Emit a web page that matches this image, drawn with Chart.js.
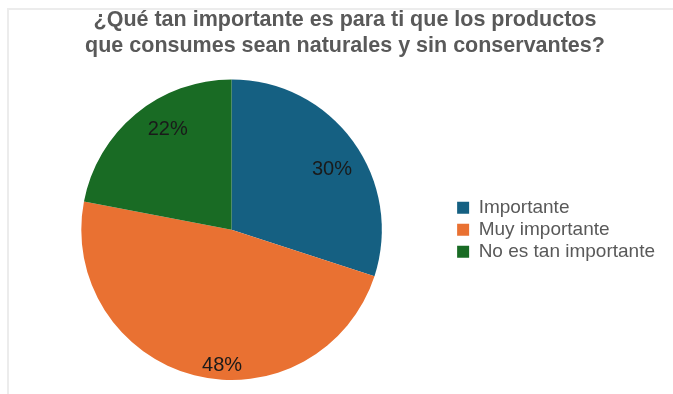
<!DOCTYPE html>
<html>
<head>
<meta charset="utf-8">
<script src="https://cdn.jsdelivr.net/npm/chart.js@4"></script>
<style>
  html, body { margin: 0; padding: 0; background: #fff; }
  .wrap { position: relative; width: 673px; height: 394px; }
  .frame { position: absolute; left: 7px; top: 8px; right: 0; bottom: 0;
           border-left: 2px solid #ececec; border-top: 2px solid #ececec; }
  canvas { position: absolute; left: 0; top: 0; }
</style>
</head>
<body>
<div class="wrap">
  <div class="frame"></div>
  <canvas id="pieChart" width="673" height="394"></canvas>
</div>
<script>
const titleLines = ['¿Qué tan importante es para ti que los productos', 'que consumes sean naturales y sin conservantes?'];
const categories = ['Importante', 'Muy importante', 'No es tan importante'];
const percentages = [30, 48, 22];
const sliceColors = ['#156082', '#E97132', '#196B24'];

// where each % label sits inside its slice: fraction of the sweep, fraction of radius
const labelSpots = [
  { along: 0.54, out: 0.785 },
  { along: 0.44, out: 0.895 },
  { along: 0.595, out: 0.80 }
];

const sliceLabels = {
  id: 'sliceLabels',
  afterDatasetsDraw(chart) {
    const ctx = chart.ctx;
    const meta = chart.getDatasetMeta(0);
    ctx.save();
    ctx.font = '20px "Liberation Sans", Arial, sans-serif';
    ctx.fillStyle = '#1a1a1a';
    ctx.textAlign = 'center';
    ctx.textBaseline = 'middle';
    meta.data.forEach((arc, i) => {
      const p = arc.getProps(['x', 'y', 'startAngle', 'endAngle', 'outerRadius'], true);
      const spot = labelSpots[i];
      const a = p.startAngle + (p.endAngle - p.startAngle) * spot.along;
      const r = p.outerRadius * spot.out;
      ctx.fillText(percentages[i] + '%', p.x + Math.cos(a) * r, p.y + Math.sin(a) * r + 2);
    });
    ctx.restore();
  }
};

// the title in the original sits a bit right of the canvas middle
const titleNudge = {
  id: 'titleNudge',
  afterLayout(chart) {
    if (chart.titleBlock) chart.titleBlock.left += 16;
  }
};

new Chart(document.getElementById('pieChart'), {
  type: 'pie',
  data: {
    labels: categories,
    datasets: [{
      data: percentages,
      backgroundColor: sliceColors,
      borderWidth: 0
    }]
  },
  options: {
    responsive: false,
    animation: false,
    layout: { padding: { left: 9, right: 8, top: 0, bottom: 14 } },
    plugins: {
      title: {
        display: true,
        text: titleLines,
        color: '#595959',
        font: { family: '"Liberation Sans", Arial, sans-serif', size: 21.5, weight: 'bold', lineHeight: 1.22 },
        padding: { top: 7, bottom: 20 }
      },
      legend: {
        position: 'right',
        fullSize: false,
        labels: {
          color: '#595959',
          font: { family: '"Liberation Sans", Arial, sans-serif', size: 19 },
          boxWidth: 12,
          boxHeight: 12,
          padding: 3
        }
      },
      tooltip: { enabled: false }
    }
  },
  plugins: [sliceLabels, titleNudge]
});
</script>
</body>
</html>
